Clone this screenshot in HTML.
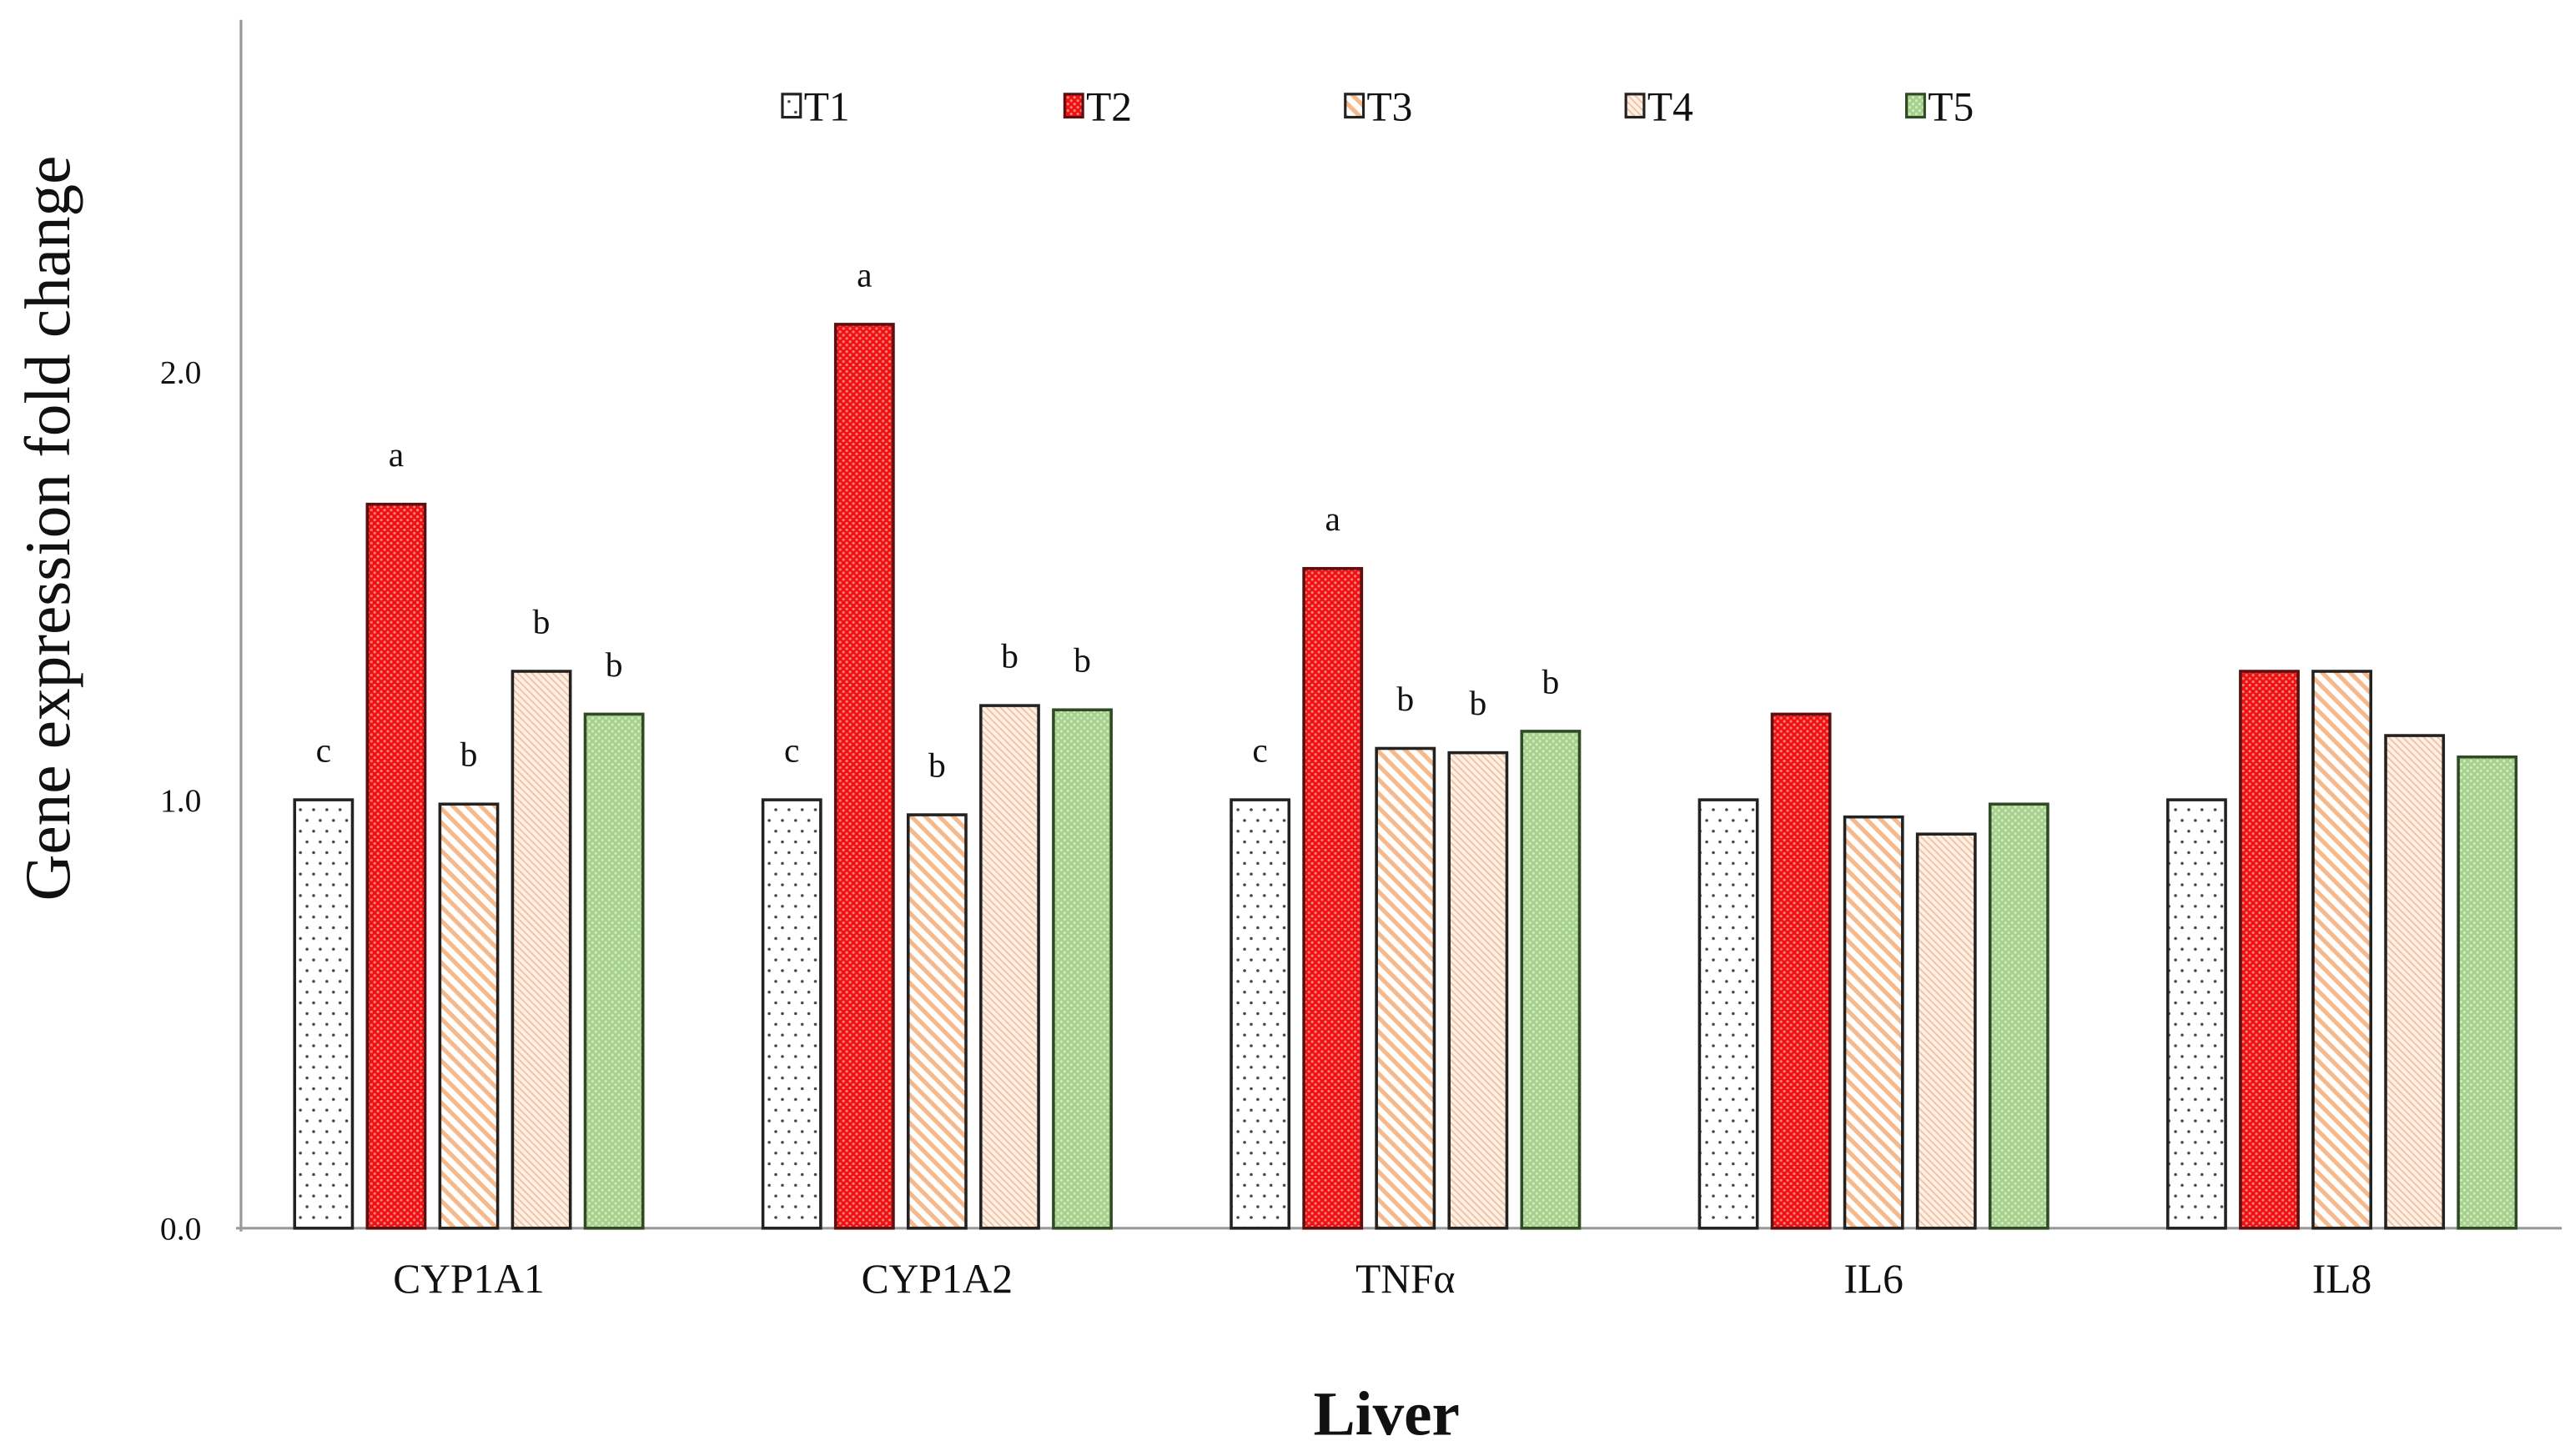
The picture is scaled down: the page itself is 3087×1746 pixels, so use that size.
<!DOCTYPE html>
<html><head><meta charset="utf-8"><style>
html,body{margin:0;padding:0;background:#fff;}
svg{display:block;}
text{font-family:"Liberation Serif",serif;fill:#111;}
</style></head><body>
<svg id="chart" width="3087" height="1746" viewBox="0 0 1560 882" preserveAspectRatio="none" xmlns="http://www.w3.org/2000/svg">
<defs>
<pattern id="pT1" width="8" height="13" patternUnits="userSpaceOnUse"><rect width="8" height="13" fill="#fff"/><circle cx="2" cy="3" r="0.9" fill="#444"/><circle cx="6" cy="9.5" r="0.9" fill="#444"/></pattern>
<pattern id="pT2" width="4" height="4" patternUnits="userSpaceOnUse"><rect width="4" height="4" fill="#f01010"/><circle cx="1" cy="1" r="0.8" fill="#f78080"/><circle cx="3" cy="3" r="0.8" fill="#f78080"/></pattern>
<pattern id="pT3" width="6" height="6" patternUnits="userSpaceOnUse" patternTransform="rotate(45)"><rect width="6" height="6" fill="#fff"/><rect width="6" height="2.6" fill="#f6b98c"/></pattern>
<pattern id="pT4" width="3" height="3" patternUnits="userSpaceOnUse" patternTransform="rotate(45)"><rect width="3" height="3" fill="#fdf0e6"/><rect width="3" height="1" fill="#f2c4a4"/></pattern>
<pattern id="pT5" width="4" height="4" patternUnits="userSpaceOnUse"><rect width="4" height="4" fill="#a6d18c"/><circle cx="1" cy="1" r="0.8" fill="#d2eac4"/><circle cx="3" cy="3" r="0.8" fill="#d2eac4"/></pattern>
</defs>
<g id="plot"></g>
</svg>
<script>
const categories = ["CYP1A1","CYP1A2","TNFα","IL6","IL8"];
const seriesNames = ["T1","T2","T3","T4","T5"];
const t1 = [1.0, 1.0, 1.0, 1.0, 1.0];
const t2 = [1.69, 2.11, 1.54, 1.20, 1.30];
const t3 = [0.99, 0.965, 1.12, 0.96, 1.30];
const t4 = [1.30, 1.22, 1.11, 0.92, 1.15];
const t5 = [1.20, 1.21, 1.16, 0.99, 1.10];
const letters = [["c","a","b","b","b"],["c","a","b","b","b"],["c","a","b","b","b"],["","","","",""],["","","","",""]];
const yTicks = [0.0, 1.0, 2.0];
const yTickLabels = ["0.0","1.0","2.0"];

const series = [t1,t2,t3,t4,t5];
const strokes = ["#222","#5a1010","#222","#222","#2f4a25"];
const NS = "http://www.w3.org/2000/svg";
const g = document.getElementById('plot');
const y0 = 744, pxPerUnit = 259.5;
function yScale(v){ return y0 - v*pxPerUnit; }
function groupCenter(i){ return 284 + i*283.7; }
const barW = 35, barStep = 44;
function barX(i,s){ return groupCenter(i) + (s-2)*barStep - barW/2; }
function mk(tag, attrs){ const e=document.createElementNS(NS,tag); for(const k in attrs) e.setAttribute(k,attrs[k]); g.appendChild(e); return e; }

let ax = mk('line',{x1:146,y1:12,x2:146,y2:746,stroke:'#999','stroke-width':1.6});


let bx = mk('line',{x1:143,y1:744,x2:1552,y2:744,stroke:'#999','stroke-width':1.6});



yTicks.forEach((v,k)=>{
  const t = mk('text',{x:122,y:yScale(v)+7,'text-anchor':'end','font-size':20});
  t.textContent = yTickLabels[k];
  
  
});

categories.forEach((c,i)=>{
  series.forEach((arr,s)=>{
    const v = arr[i];
    const r = mk('rect',{x:barX(i,s),y:yScale(v),width:barW,height:v*pxPerUnit,fill:'url(#pT'+(s+1)+')',stroke:strokes[s],'stroke-width':1.8});
    
    
    const L = letters[i][s];
    if(L){
      const t = mk('text',{x:barX(i,s)+barW/2,y:yScale(v)-23,'text-anchor':'middle','font-size':21});
      t.textContent = L;
      
      
    }
  });
  const cl = mk('text',{x:groupCenter(i),y:783,'text-anchor':'middle','font-size':25});
  cl.textContent = c;
  
  
});

const legX = [474,645,815,985,1155];
seriesNames.forEach((n,s)=>{
  const r = mk('rect',{x:legX[s],y:57,width:11,height:14,fill:'url(#pT'+(s+1)+')',stroke:strokes[s],'stroke-width':1.6});
  
  
  const t = mk('text',{x:legX[s]+13,y:73,'font-size':25});
  t.textContent = n;
  
  
});

const yt = mk('text',{x:0,y:0,'text-anchor':'middle','font-size':39,transform:'translate(42,320) rotate(-90)'});
yt.textContent = 'Gene expression fold change';


const xt = mk('text',{x:840,y:869,'text-anchor':'middle','font-size':38,'font-weight':'bold'});
xt.textContent = 'Liver';


</script>
</body></html>
